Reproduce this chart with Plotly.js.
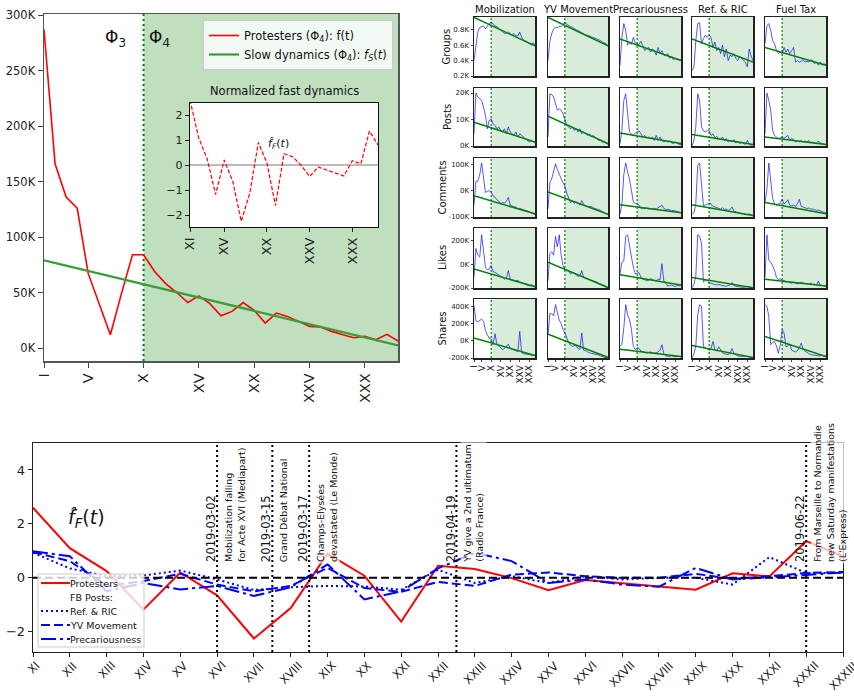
<!DOCTYPE html>
<html><head><meta charset="utf-8">
<script src="https://cdn.plot.ly/plotly-3.0.1.min.js"></script>
<style>body{margin:0;background:#fff;} #chart{width:854px;height:699px;}</style>
</head><body><div id="chart"></div>
<script>
// ---------------- DATA ----------------
const weeks = [1,2,3,4,5,6,7,8,9,10,11,12,13,14,15,16,17,18,19,20,21,22,23,24,25,26,27,28,29,30,31,32,33];
const roman = ['I','II','III','IV','V','VI','VII','VIII','IX','X','XI','XII','XIII','XIV','XV','XVI','XVII','XVIII','XIX','XX','XXI','XXII','XXIII','XXIV','XXV','XXVI','XXVII','XXVIII','XXIX','XXX','XXXI','XXXII','XXXIII'];
const mainTickWeeks = [1,5,10,15,20,25,30];
const protesters = [287,166,136,126,67,40,12,49,84,84,69,58,50,41,47,40,29,33,41,34,22.5,31.5,28.5,24,19.5,19,15,12,9.3,10.5,7.5,12.3,6.3];
const slowWeeks = [1,33];
const slowValues = [79,2.4];
const phaseStart = 10;

const fastWeeks = [11,12,13,14,15,16,17,18,19,20,21,22,23,24,25,26,27,28,29,30,31,32,33];
const fastProtesters = [2.6,1.1,0.25,-1.18,0.2,-0.65,-2.25,-1.12,0.9,0.08,-1.62,0.45,0.33,-0.01,-0.46,-0.08,-0.2,-0.32,-0.44,0.17,0.05,1.36,0.8];
const fastRefRIC = [0.93,0.35,0.06,0.09,0.27,-0.06,-0.45,-0.35,-0.3,-0.32,-0.44,0.3,-0.19,0.06,-0.19,0.06,-0.06,0,0,-0.25,0.77,0.18,0.18];
const fastYV = [0.95,0.62,-0.3,-0.12,0.15,-0.25,-0.5,-0.3,0.37,-0.38,-0.52,-0.15,-0.3,0.12,0.2,0.06,0,0,0.15,-0.04,0.06,0.18,0.22];
const fastPrec = [0.99,0.8,-0.5,-0.19,-0.43,-0.3,-0.67,-0.35,0.5,-0.8,-0.5,0.35,0.93,0.62,-0.19,-0.06,-0.25,-0.33,0.37,-0.06,0.02,0.12,0.2];

const eventWeeks = [16,17.5,18.5,22.5,32];
const eventDates = ['2019-03-02','2019-03-15','2019-03-17','2019-04-19','2019-06-22'];
const eventTexts = ['Mobilization falling<br>for Acte XVI (Mediapart)','Grand Débat National','Champs-Elysées<br>devastated (Le Monde)','YV give a 2nd ultimatum<br>(Radio France)','From Marseille to Normandie<br>new Saturday manifestations<br>(L\'Express)'];

const legendLabels = ['Protesters','FB Posts:','Ref. & RIC','YV Movement','Precariousness'];

const panelCols = ['Mobilization','YV Movement','Precariousness','Ref. & RIC','Fuel Tax'];
const panelRows = ['Groups','Posts','Comments','Likes','Shares'];

const groups = [
 [0.40,0.62,0.77,0.83,0.84,0.85,0.81,0.85,0.88,0.90,0.87,0.85,0.84,0.82,0.79,0.78,0.75,0.76,0.77,0.75,0.73,0.75,0.72,0.72,0.77,0.70,0.66,0.65,0.64,0.62,0.60,0.63,0.60],
 [0.40,0.65,0.75,0.81,0.83,0.83,0.84,0.84,0.87,0.90,0.87,0.85,0.84,0.83,0.81,0.80,0.79,0.77,0.76,0.75,0.73,0.73,0.72,0.71,0.70,0.70,0.68,0.67,0.66,0.64,0.63,0.62,0.58],
 [0.34,0.70,0.88,0.79,0.60,0.63,0.61,0.70,0.63,0.61,0.61,0.65,0.59,0.53,0.55,0.57,0.51,0.55,0.53,0.47,0.57,0.49,0.53,0.47,0.46,0.49,0.43,0.46,0.41,0.43,0.42,0.41,0.41],
 [0.27,0.31,0.66,0.88,0.89,0.62,0.68,0.73,0.70,0.73,0.70,0.57,0.64,0.53,0.57,0.49,0.60,0.45,0.55,0.40,0.47,0.45,0.49,0.43,0.40,0.45,0.43,0.40,0.38,0.32,0.55,0.46,0.40],
 [0.62,0.85,0.88,0.79,0.66,0.62,0.53,0.49,0.51,0.49,0.57,0.51,0.55,0.49,0.53,0.57,0.38,0.40,0.38,0.40,0.41,0.38,0.39,0.38,0.41,0.40,0.36,0.38,0.34,0.38,0.34,0.36,0.34]];
const groupsSlow = [[0.96,0.59],[0.96,0.59],[0.68,0.40],[0.68,0.38],[0.57,0.34]];

const posts = [
 [4.6,20,18.5,17.9,17.2,14.7,11.6,6.5,9.7,10.3,8.4,7.8,6.5,7.2,5.9,5.3,6.5,4.6,7.2,5.3,4.6,4.0,5.3,3.4,4.6,4.0,3.4,2.8,2.1,1.5,2.1,1.5,1.5],
 [3.4,19.7,19.4,18.5,16,13.5,14,13.5,12.2,9.7,7.8,7.2,6.5,7.2,5.9,6.5,5.3,6.5,4.6,5.3,4.6,4.0,4.6,3.4,4.0,3.4,2.8,2.1,2.1,1.5,1.5,1.1,0.6],
 [0.9,5.9,17.2,19.7,12.2,5.3,4.6,4.0,4.9,5.3,5.7,4.6,3.4,4.0,3.1,3.4,2.8,3.4,2.1,4.0,2.1,3.4,2.1,1.5,2.1,1.5,1.9,1.3,0.9,1.5,0.9,0.6,0.6],
 [0,2.1,7.2,19.7,17.2,7.2,5.7,5.3,5.9,5.7,4.0,4.6,3.1,3.6,2.8,2.4,3.4,2.1,2.8,1.5,2.1,1.5,2.4,1.1,1.9,0.9,1.5,0.9,0.6,2.1,0.6,0.3,0.6],
 [4.6,20,17.2,13.5,5.9,4.0,3.4,2.8,3.1,3.4,2.8,3.4,4.0,2.1,2.8,2.4,1.5,1.9,1.5,2.1,1.5,1.9,1.5,2.1,1.1,1.5,1.1,0.9,1.9,1.1,0.9,0.6,0.5]];
const postsSlow = [[9,1.5],[11.3,0.9],[4.9,0.9],[4.3,0.6],[3.4,0.6]];

const comments = [
 [-55,35,35,60,104,42,-7,-4,0,-5,-20,-25,-35,-40,-50,-45,-48,-40,-26,-55,-60,-62,-62,-69,-68,-70,-72,-75,-78,-80,-84,-86,-90],
 [-70,30,45,75,101,80,60,45,30,16,-10,-30,-45,-40,-48,-42,-50,-55,-38,-52,-58,-60,-62,-60,-65,-68,-70,-72,-75,-80,-85,-88,-92],
 [-90,-50,60,104,70,42,0,-43,-48,-50,-55,-68,-66,-69,-65,-70,-68,-72,-67,-70,-65,-60,-55,-68,-72,-70,-74,-76,-75,-78,-80,-82,-84],
 [-90,-85,-50,95,104,20,-57,-55,-52,-48,-50,-60,-62,-65,-68,-70,-65,-72,-70,-75,-72,-62,-78,-80,-82,-85,-88,-87,-90,-92,-88,-92,-95],
 [-45,5,104,30,-30,-50,-57,-50,-48,-33,-50,-45,-35,-55,-58,-55,-60,-50,-33,-60,-62,-65,-68,-66,-70,-70,-72,-75,-74,-78,-80,-82,-85]];
const commentsSlow = [[-20,-88],[-5,-90],[-54,-84],[-54,-94],[-45,-88]];

const likes = [
 [-110,136,80,64,252,107,-23,-46,-40,-9,-60,-67,-80,-90,-100,-110,-125,-115,-52,-125,-130,-139,-140,-135,-150,-155,-160,-165,-175,-183,-170,-180,-185],
 [-139,93,107,80,238,150,252,78,-9,-40,-50,-60,-80,-70,-75,-85,-100,-95,-52,-110,-115,-120,-125,-135,-140,-145,-150,-160,-165,-170,-178,-188,-197],
 [-81,20,30,238,252,140,64,-23,-81,-75,-70,-110,-125,-130,-139,-135,-120,-130,-135,-140,-125,-130,6,-140,-160,-183,-180,-175,-183,-185,-180,-182,-175],
 [-197,-170,-100,252,240,180,-150,-130,-140,-155,-160,-165,-170,-175,-170,-178,-180,-182,-185,-178,-175,-154,-180,-185,-188,-190,-192,-195,-190,-185,-190,-195,-197],
 [-110,252,35,20,-10,-50,-110,-130,-120,-140,-135,-150,-145,-155,-160,-150,-155,-165,-160,-150,-158,-160,-165,-165,-160,-170,-165,-175,-140,-180,-178,-180,-182]];
const likesSlow = [[-38,-189],[20,-197],[-87,-174],[-110,-197],[-125,-183]];

const shares = [
 [410,230,220,240,250,225,120,70,31,20,-46,81,-40,-60,-80,-104,-90,-70,-39,-90,-100,-110,-120,-125,108,-140,-150,-155,-162,-160,-165,-168,-170],
 [70,313,313,290,418,320,240,200,130,90,30,-20,-50,-66,-55,-60,-90,-100,89,-110,-115,-130,-140,-145,-150,-150,-160,-165,-175,-185,-190,-195,-200],
 [-66,-40,150,418,300,244,130,-66,-100,-80,-90,-120,-130,-140,-143,-135,-130,-140,-145,-138,-130,-110,-46,-150,-175,-180,-182,-175,-180,-185,-180,-182,-185],
 [-200,-150,-66,300,418,400,-66,-80,-100,-110,-90,-8,-100,-120,-70,-110,-140,-150,-155,-160,-140,-90,-150,-165,-175,-180,-185,-182,-178,-185,-190,-190,-195],
 [418,400,282,-46,-20,-10,-60,-143,-50,128,90,-70,-60,-40,-110,-120,-130,-115,-80,-27,-100,-120,-140,-150,-160,-165,-162,-170,-175,-175,-170,-180,-175]];
const sharesSlow = [[31,-170],[77,-193],[-97,-182],[-54,-193],[50,-182]];

const rowRanges = [[0.2,0.965],[0,21.9],[-100,123],[-200,310],[-200,484]];
const rowTicks = [[0.2,0.4,0.6,0.8],[0,10,20],[-100,0,100],[-200,0,200],[-200,0,200,400]];
const rowTickText = [['0.2K','0.4K','0.6K','0.8K'],['0K','10K','20K'],['-100K','0K','100K'],['-200K','0K','200K'],['-200K','0K','200K','400K']];

// ---------------- LAYOUT HELPERS ----------------
const W = 854, H = 699;
const px = v => v / W, py = v => 1 - v / H;
const FONT = 'DejaVu Sans, Verdana, sans-serif';
const mainY = [-11.7, 301];
const insetY = [-2.48, 2.48];
const botY = [-2.75, 5];

const traces = [];
const shapes = [];
const annotations = [];

// main chart
traces.push({x: weeks, y: protesters, xaxis:'x', yaxis:'y', mode:'lines', line:{color:'red', width:1.6},
  name:'Protesters (Φ<sub>4</sub>): f(t)'});
traces.push({x: slowWeeks, y: slowValues, xaxis:'x', yaxis:'y', mode:'lines', line:{color:'#3a9d3a', width:2.2},
  name:'Slow dynamics (Φ<sub>4</sub>): <i>f</i><sub><i>S</i></sub>(<i>t</i>)'});
shapes.push({type:'rect', xref:'x', yref:'y', x0:phaseStart, x1:33, y0:mainY[0], y1:mainY[1], fillcolor:'rgba(0,128,0,0.25)', line:{width:0}, layer:'below'});
shapes.push({type:'line', xref:'x', yref:'y', x0:phaseStart, x1:phaseStart, y0:mainY[0], y1:mainY[1], line:{color:'green', width:2, dash:'2px,3px'}, layer:'below'});
annotations.push({xref:'x', yref:'y', x:7.45, y:279, xanchor:'center', text:'Φ<sub>3</sub>', showarrow:false, font:{size:17, color:'#111'}});
annotations.push({xref:'x', yref:'y', x:11.4, y:279, xanchor:'center', text:'Φ<sub>4</sub>', showarrow:false, font:{size:17, color:'#111'}});

// inset
shapes.push({type:'rect', xref:'x2', yref:'y2', x0:11, x1:33, y0:insetY[0], y1:insetY[1], fillcolor:'white', line:{width:0}, layer:'below'});
shapes.push({type:'line', xref:'x2', yref:'y2', x0:11, x1:33, y0:0, y1:0, line:{color:'#bbbbbb', width:2}, layer:'below'});
traces.push({x: fastWeeks, y: fastProtesters, xaxis:'x2', yaxis:'y2', mode:'lines', line:{color:'red', width:1.2, dash:'4px,2px'}, showlegend:false});
annotations.push({xref:'paper', yref:'paper', x:px(284), y:py(91), xanchor:'center', yanchor:'middle', text:'Normalized fast dynamics', showarrow:false, font:{size:11.5, color:'#111'}});
annotations.push({xref:'x2', yref:'y2', x:21.4, y:0.85, xanchor:'center', text:'<i>f̂</i><sub><i>F</i></sub>(<i>t</i>)', showarrow:false, font:{size:11, color:'#111'}});

// bottom chart
traces.push({x: fastWeeks, y: fastProtesters, xaxis:'x3', yaxis:'y3', mode:'lines', line:{color:'red', width:2}, showlegend:false});
traces.push({x: fastWeeks, y: fastRefRIC, xaxis:'x3', yaxis:'y3', mode:'lines', line:{color:'blue', width:2, dash:'2px,3px'}, showlegend:false});
traces.push({x: fastWeeks, y: fastYV, xaxis:'x3', yaxis:'y3', mode:'lines', line:{color:'blue', width:2, dash:'9px,4px'}, showlegend:false});
traces.push({x: fastWeeks, y: fastPrec, xaxis:'x3', yaxis:'y3', mode:'lines', line:{color:'blue', width:2, dash:'15px,4px,3px,4px'}, showlegend:false});
shapes.push({type:'line', xref:'x3', yref:'y3', x0:11, x1:33, y0:0, y1:0, line:{color:'black', width:2, dash:'8px,4px'}, layer:'above'});
eventWeeks.forEach((w, i) => {
  shapes.push({type:'line', xref:'x3', yref:'y3', x0:w, x1:w, y0:botY[0], y1:botY[1], line:{color:'black', width:2, dash:'2px,3px'}, layer:'above'});
  annotations.push({xref:'x3', yref:'y3', x:w, y:0.5, xanchor:'right', yanchor:'bottom', xshift:3, textangle:-90,
    text:eventDates[i], showarrow:false, font:{size:11.5, color:'#111'}});
  annotations.push({xref:'x3', yref:'y3', x:w, y:0.5, xanchor:'left', yanchor:'bottom', xshift:4, textangle:-90, align:'left',
    text:eventTexts[i], showarrow:false, bgcolor:'rgba(255,255,255,0.7)', font:{size:9.5, color:'#111'}});
});
annotations.push({xref:'x3', yref:'y3', x:12.45, y:2.2, xanchor:'center', text:'<i>f̂</i><sub><i>F</i></sub>(<i>t</i>)', showarrow:false, font:{size:19, color:'#111'}});
// bottom x tick labels, centred under their ticks (rotated 45°)
fastWeeks.forEach(w => annotations.push({xref:'x3', yref:'paper', x:w, y:py(656), xanchor:'center', yanchor:'top', textangle:-45,
  text:roman[w-1], showarrow:false, font:{size:11.5, color:'#222'}}));

// custom legend for bottom chart
const legRows = [583, 597, 611, 625, 639];
const legStyles = [{color:'red', dash:'solid'}, null, {color:'blue', dash:'2px,3px'}, {color:'blue', dash:'9px,4px'}, {color:'blue', dash:'15px,4px,3px,4px'}];
shapes.push({type:'rect', xref:'paper', yref:'paper', x0:px(38), x1:px(144), y0:py(647), y1:py(574), fillcolor:'rgba(255,255,255,0.8)', line:{color:'#cccccc', width:1}, layer:'above'});
legendLabels.forEach((lab, i) => {
  if (legStyles[i]) shapes.push({type:'line', xref:'paper', yref:'paper', x0:px(41), x1:px(70), y0:py(legRows[i]), y1:py(legRows[i]), line:{color:legStyles[i].color, width:2, dash:legStyles[i].dash}, layer:'above'});
  annotations.push({xref:'paper', yref:'paper', x:px(68), y:py(legRows[i]), xanchor:'left', yanchor:'middle', text:lab, showarrow:false, font:{size:9.5, color:'#111'}});
});

// small multiples
const colX = [[474,535],[548,608],[620,681],[692,753],[765,826]];
const rowYp = [[17,76],[88,146],[158,217],[228,288],[299,358]];
const rowData = [groups, posts, comments, likes, shares];
const rowSlow = [groupsSlow, postsSlow, commentsSlow, likesSlow, sharesSlow];
const rowLabelX = [446, 447, 442, 442, 442];

const layout = {
  width:W, height:H, margin:{l:0, r:0, t:0, b:0},
  paper_bgcolor:'white', plot_bgcolor:'white',
  font:{family:FONT, color:'#222'},
  showlegend:true,
  legend:{x:px(393), xanchor:'right', y:py(20), yanchor:'top', bgcolor:'rgba(255,255,255,0.8)', bordercolor:'#cccccc', borderwidth:1,
    font:{size:11.5, color:'#111'}, itemwidth:30, tracegroupgap:0},
  xaxis:{domain:[px(44), px(398)], range:[1,33], anchor:'y', tickvals:mainTickWeeks, ticktext:mainTickWeeks.map(w => roman[w-1]),
    tickangle:-90, tickfont:{size:14.5}, ticks:'outside', ticklen:5, tickcolor:'#444', showline:true, mirror:true, linecolor:'#555', linewidth:1.5,
    showgrid:false, zeroline:false, automargin:false},
  yaxis:{domain:[py(361), py(14)], range:mainY, anchor:'x', tickvals:[0,50,100,150,200,250,300], ticktext:['0K','50K','100K','150K','200K','250K','300K'],
    tickfont:{size:11.5}, ticks:'outside', ticklen:5, tickcolor:'#444', showline:true, mirror:true, linecolor:'#555', linewidth:1.5,
    showgrid:false, zeroline:false, automargin:false},
  xaxis2:{domain:[px(190), px(378)], range:[11,33], anchor:'y2', tickvals:[11,15,20,25,30], ticktext:[11,15,20,25,30].map(w => roman[w-1]),
    tickangle:-90, tickfont:{size:13}, ticks:'outside', ticklen:4, tickcolor:'#222', showline:true, mirror:true, linecolor:'#111', linewidth:1.3,
    showgrid:false, zeroline:false, automargin:false},
  yaxis2:{domain:[py(227), py(103)], range:insetY, anchor:'x2', tickvals:[-2,-1,0,1,2], tickfont:{size:11}, ticks:'outside', ticklen:4, tickcolor:'#222',
    showline:true, mirror:true, linecolor:'#111', linewidth:1.3, showgrid:false, zeroline:false, automargin:false},
  xaxis3:{domain:[px(33), px(843)], range:[11,33], anchor:'y3', tickvals:fastWeeks, showticklabels:false,
    ticks:'outside', ticklen:4, tickcolor:'#222', showline:true, mirror:true, linecolor:'#222', linewidth:1.3,
    showgrid:false, zeroline:false, automargin:false},
  yaxis3:{domain:[py(652), py(443)], range:botY, anchor:'x3', tickvals:[-2,0,2,4], tickfont:{size:13}, ticks:'outside', ticklen:4, tickcolor:'#222',
    showline:true, mirror:true, linecolor:'#222', linewidth:1.3, showgrid:false, zeroline:false, automargin:false},
  shapes:shapes, annotations:annotations
};

for (let r = 0; r < 5; r++) {
  for (let c = 0; c < 5; c++) {
    const n = 4 + r * 5 + c;
    const xa = 'x' + n, ya = 'y' + n;
    traces.push({x: weeks, y: rowData[r][c], xaxis:xa, yaxis:ya, mode:'lines', line:{color:'rgba(0,0,255,0.65)', width:1}, showlegend:false});
    traces.push({x: slowWeeks, y: rowSlow[r][c], xaxis:xa, yaxis:ya, mode:'lines', line:{color:'green', width:1.5}, showlegend:false});
    shapes.push({type:'rect', xref:xa, yref:ya, x0:phaseStart, x1:33, y0:rowRanges[r][0], y1:rowRanges[r][1], fillcolor:'rgba(0,128,0,0.15)', line:{width:0}, layer:'below'});
    shapes.push({type:'line', xref:xa, yref:ya, x0:phaseStart, x1:phaseStart, y0:rowRanges[r][0], y1:rowRanges[r][1], line:{color:'green', width:1.2, dash:'2px,2px'}, layer:'below'});
    layout['xaxis' + n] = {domain:[px(colX[c][0]), px(colX[c][1])], range:[1,33], anchor:ya,
      tickvals:mainTickWeeks, ticktext:mainTickWeeks.map(w => roman[w-1]), showticklabels:r === 4, ticks:r === 4 ? 'outside' : '', ticklen:2,
      tickangle:-90, tickfont:{size:9}, showline:true, mirror:true, linecolor:'#222', linewidth:1.5, showgrid:false, zeroline:false, automargin:false};
    layout['yaxis' + n] = {domain:[py(rowYp[r][1]), py(rowYp[r][0])], range:rowRanges[r], anchor:xa,
      tickvals:rowTicks[r], ticktext:rowTickText[r], showticklabels:c === 0, ticks:c === 0 ? 'outside' : '', ticklen:2,
      tickfont:{size:7}, showline:true, mirror:true, linecolor:'#222', linewidth:1.5, showgrid:false, zeroline:false, automargin:false};
  }
}
panelCols.forEach((t, c) => annotations.push({xref:'paper', yref:'paper', x:px((colX[c][0] + colX[c][1]) / 2), y:py(10), xanchor:'center', yanchor:'middle', text:t, showarrow:false, font:{size:10, color:'#111'}}));
panelRows.forEach((t, r) => annotations.push({xref:'paper', yref:'paper', x:px(rowLabelX[r]), y:py((rowYp[r][0] + rowYp[r][1]) / 2), xanchor:'center', yanchor:'middle', textangle:-90, text:t, showarrow:false, font:{size:10, color:'#111'}}));

Plotly.newPlot('chart', traces, layout, {displayModeBar:false, staticPlot:true});
</script>
</body></html>
